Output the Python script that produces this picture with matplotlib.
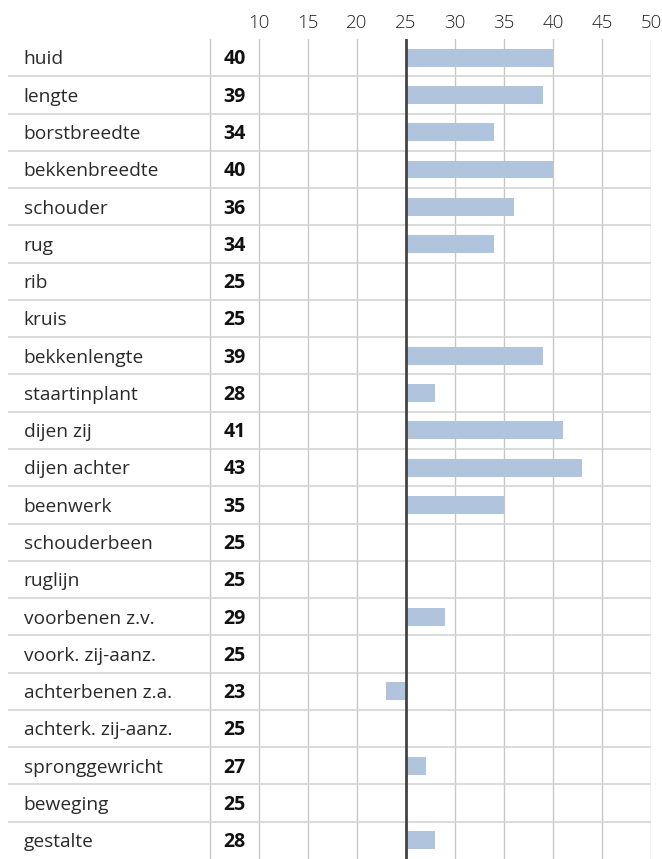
import numpy as np
import matplotlib
matplotlib.use("Agg")
import matplotlib.pyplot as plt

labels = ["huid", "lengte", "borstbreedte", "bekkenbreedte", "schouder", "rug",
          "rib", "kruis", "bekkenlengte", "staartinplant", "dijen zij",
          "dijen achter", "beenwerk", "schouderbeen", "ruglijn",
          "voorbenen z.v.", "voork. zij-aanz.", "achterbenen z.a.",
          "achterk. zij-aanz.", "spronggewricht", "beweging", "gestalte"]
values = [40, 39, 34, 40, 36, 34, 25, 25, 39, 28, 41, 43, 35, 25, 25, 29, 25, 23,
          25, 27, 25, 28]
ticks = [10, 15, 20, 25, 30, 35, 40, 45, 50]
base = 25

plt.rcParams['font.family'] = ['Open Sans', 'DejaVu Sans']

fig = plt.figure(figsize=(6.62, 8.59), dpi=100)
ax = fig.add_axes([8 / 662, 0.0, (651 - 8) / 662, 1 - 39 / 859])

n = len(labels)
ax.set_xlim(-15.6, 50)
ax.set_ylim(n - 0.5, -0.5)

y = np.arange(n)
vals = np.array(values)
ax.barh(y, vals - base, left=base, height=0.48, color="#b0c4de", zorder=2)

# grid
for t in [5] + ticks:
    ax.axvline(t, color="#c8c8c8", lw=1.0, zorder=1)
for i in range(1, n):
    ax.axhline(i - 0.5, color="#d4d4d4", lw=1.2, zorder=1)
ax.axvline(base, color="#444444", lw=2.0, zorder=3)

for i, (lab, v) in enumerate(zip(labels, values)):
    ax.text(-14.0, i + 0.05, lab, va="center", ha="left", fontsize=13.8,
            color="#2a2a2a", fontweight="normal")
    ax.text(7.5, i + 0.05, str(v), va="center", ha="center", fontsize=14,
            fontweight="bold", color="#111111")

ax.xaxis.tick_top()
ax.set_xticks(ticks)
ax.set_xticklabels([str(t) for t in ticks], fontsize=13.5, color="#222222",
                   fontweight="light")
ax.tick_params(axis="x", length=0, pad=5)
ax.set_yticks([])
for s in ax.spines.values():
    s.set_visible(False)

fig.savefig("out.png", dpi=100)
